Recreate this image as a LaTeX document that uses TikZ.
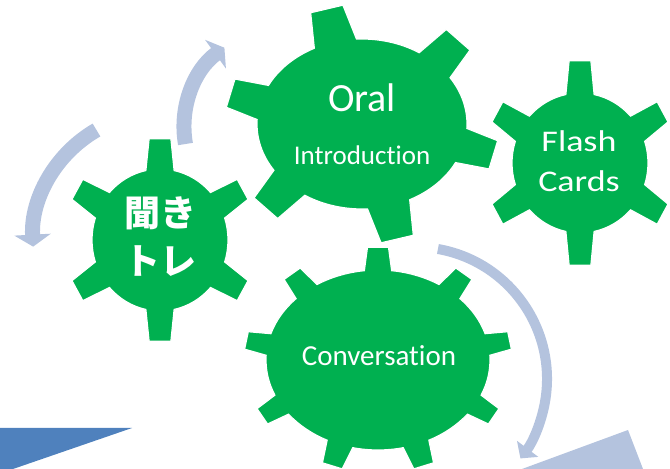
\documentclass[tikz,border=0pt]{standalone}
\usepackage{fontspec}
\setmainfont{Carlito}[Ligatures=NoCommon]
\newfontfamily\cjk{Noto Sans CJK JP}
\newfontfamily\widefont[FakeStretch=1.2, Ligatures=NoCommon]{Carlito}
\usepackage{xcolor}
\usepackage{tikz}
\usetikzlibrary{arrows.meta, positioning}
\definecolor{geargreen}{HTML}{00B050}
\definecolor{arrowblue}{RGB}{180,195,222}
\definecolor{darkblue}{HTML}{4F81BD}
\tikzset{
    gear/.style={fill=geargreen, draw=white, line width=1.2pt},
    gearlabel/.style={text=white, inner sep=0pt, anchor=base},
    cyclearrow/.style={draw=arrowblue, line width=15pt},
    thinarrow/.style={draw=arrowblue, line width=10pt},
    wedge/.style={fill=#1, draw=none}
}
% centre, teeth, offset, tip radii (x,y), body radii (x,y), tip / base half angle
\newcommand{\drawgear}[9]{%
    \fill[gear, shift={(#1)}] ({#3-#9}:#6 and #7)
        \foreach \k in {1,...,#2}{
            -- ({#3+(\k-1)*360/#2-#8}:#4 and #5)
            -- ({#3+(\k-1)*360/#2+#8}:#4 and #5)
            -- ({#3+(\k-1)*360/#2+#9}:#6 and #7)
            arc[start angle={#3+(\k-1)*360/#2+#9}, end angle={#3+\k*360/#2-#9}, x radius=#6, y radius=#7]
        } -- cycle;
}

\begin{document}
\begin{tikzpicture}[x=1pt, y=1pt]
    \useasboundingbox (0,0) rectangle (670,469);

    % Corner wedges
    \fill[wedge=darkblue] (0,41) -- (132,41) -- (13,0) -- (0,0) -- cycle;
    \fill[wedge=arrowblue] (628,39) -- (643,0) -- (522,0) -- cycle;

    % Gear centres
    \coordinate (kiki c) at (160,229);
    \coordinate (oral c) at (362,345);
    \coordinate (flash c) at (580,306);
    \coordinate (conv c) at (378,109);
    \coordinate (up c) at (282,342);
    \coordinate (turn c) at (415,90);

    % Arrows
    \draw[cyclearrow, -{Triangle[width=36pt, length=12pt]}] ([shift={(120:127)}]kiki c) arc[start angle=120, end angle=183, radius=127];
    \draw[cyclearrow, -{Triangle[width=35pt, length=11pt]}] ([shift={(190:98)}]up c) arc[start angle=190, end angle=126, radius=98];
    \draw[thinarrow, -{Triangle[width=26pt, length=12pt]}] ([shift={(80:132)}]turn c) arc[start angle=80, end angle=-37, radius=132];

    % Gears
    \drawgear{kiki c}{6}{90}{96}{102}{68}{71}{6.5}{12}
    \drawgear{flash c}{6}{90}{96}{103}{68}{70}{6.5}{12}
    \drawgear{oral c}{6}{105}{137}{120}{105}{85}{7}{12}
    \drawgear{conv c}{9}{90}{134}{113}{112}{90}{4.5}{7}

    % Labels
    \node[gearlabel, font={\cjk\bfseries\fontsize{36}{44}\selectfont}] (kiki) at (160,242) {聞き};
    \node[gearlabel, font={\cjk\bfseries\fontsize{36}{44}\selectfont}] (tore) at (160,194) {トレ};
    \node[gearlabel, font={\fontsize{40}{48}\selectfont}] (oral) at (362,357) {Oral};
    \node[gearlabel, font={\fontsize{27}{32}\selectfont}] (intro) at (362,304) {Introduction};
    \node[gearlabel, font={\widefont\fontsize{30}{36}\selectfont}] (flash) at (579,317) {Flash};
    \node[gearlabel, font={\widefont\fontsize{30}{36}\selectfont}] (cards) at (579,277) {Cards};
    \node[gearlabel, font={\fontsize{29}{34}\selectfont}] (conv) at (379,103) {Conversation};
\end{tikzpicture}
\end{document}
